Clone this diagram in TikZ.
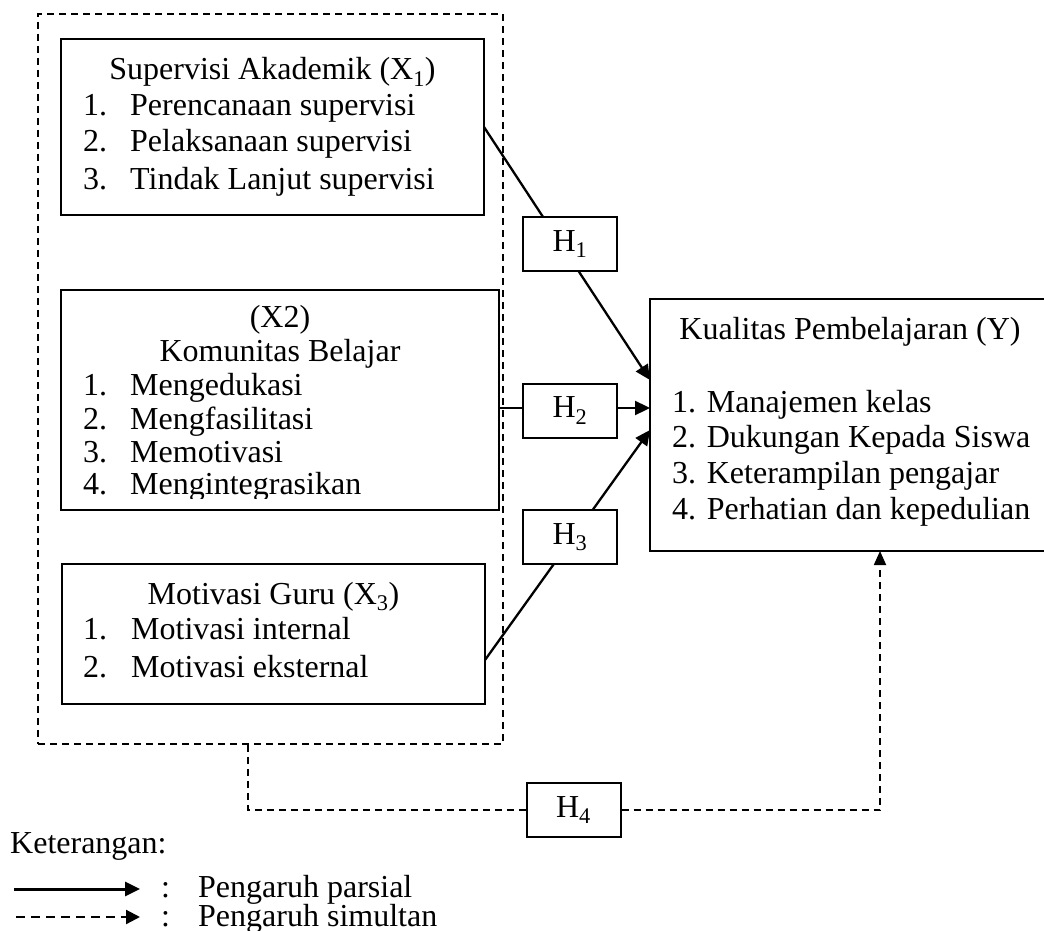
\documentclass[tikz,border=0pt]{standalone}
\usepackage{fontspec}
\setmainfont{Liberation Serif}
\usetikzlibrary{arrows.meta}
\tikzset{
  varbox/.style={draw,line width=2pt,inner sep=0pt,outer sep=0pt},
  hbox/.style={draw,line width=2pt,fill=white,minimum width=94pt,minimum height=54pt,inner sep=0pt},
  grpbox/.style={draw,line width=1.6pt,dash pattern=on 7pt off 5pt,inner sep=0pt},
  parsial/.style={line width=2.3pt,-{Triangle[length=15pt,width=14pt]}},
  simultan/.style={line width=1.8pt,dash pattern=on 7pt off 5pt},
  txt/.style={anchor=base west,inner sep=0pt},
  ttl/.style={anchor=base,inner sep=0pt}
}
\begin{document}
\begin{tikzpicture}[x=1pt,y=-1pt,font=\fontsize{32}{36}\selectfont]
\useasboundingbox (0,0) rectangle (1044,931);
% kotak variabel
\node[grpbox,minimum width=465,minimum height=730] (grp) at (270.5,379) {};
\node[varbox,minimum width=423,minimum height=176] (x1) at (272.5,127) {};
\node[varbox,minimum width=438,minimum height=220] (x2) at (280,400) {};
\node[varbox,minimum width=423,minimum height=140] (x3) at (273.5,634) {};
\node[varbox,minimum width=410,minimum height=252] (y) at (855,425) {};
% X1
\node[ttl] (x1t) at (x1.north |- 0,80) {Supervisi Akademik (X\textsubscript{1})};
\foreach \n/\t/\yy in {1/Perencanaan supervisi/116,2/Pelaksanaan supervisi/152,3/Tindak Lanjut supervisi/189}{
  \node[txt] (x1n\n) at (83,\yy) {\n.};
  \node[txt] (x1i\n) at (130,\yy) {\t};
}
% X2
\node[ttl] (x2a) at (x2.north |- 0,327) {(X2)};
\node[ttl] (x2t) at (x2.north |- 0,361) {Komunitas Belajar};
\foreach \n/\t/\yy in {1/Mengedukasi/395,2/Mengfasilitasi/429,3/Memotivasi/462}{
  \node[txt] (x2n\n) at (83,\yy) {\n.};
  \node[txt] (x2i\n) at (130,\yy) {\t};
}
\begin{scope}
  \clip (61,290) rectangle (499,498);
  \node[txt] (x2n4) at (83,494) {4.};
  \node[txt] (x2i4) at (130,494) {Mengintegrasikan};
\end{scope}
% X3
\node[ttl] (x3t) at (x3.north |- 0,604) {Motivasi Guru (X\textsubscript{3})};
\foreach \n/\t/\yy in {1/Motivasi internal/639,2/Motivasi eksternal/677}{
  \node[txt] (x3n\n) at (83,\yy) {\n.};
  \node[txt] (x3i\n) at (131,\yy) {\t};
}
% Y
\node[ttl] (yt) at (850,339) {Kualitas Pembelajaran (Y)};
\foreach \n/\t/\yy in {1/Manajemen kelas/412,2/Dukungan Kepada Siswa/447,3/Keterampilan pengajar/483,4/Perhatian dan kepedulian/519}{
  \node[txt] (yi\n) at (672,\yy) {\n. \t};
}
% pengaruh parsial
\draw[parsial] (x1.east) -- ([yshift=45pt]y.west);
\draw[parsial] ([yshift=-8pt]x2.east) -- ([yshift=17pt]y.west);
\draw[parsial] ([yshift=-26pt]x3.east) -- ([yshift=-5pt]y.west);
\node[hbox] (h1) at (570,244) {H\textsubscript{1}};
\node[hbox] (h2) at (570,410.5) {H\textsubscript{2}};
\node[hbox] (h3) at (570,537) {H\textsubscript{3}};
% pengaruh simultan
\node[hbox] (h4) at (573.5,810) {H\textsubscript{4}};
\coordinate (s0) at (248,810);
\coordinate (s1) at (880,810);
\draw[simultan] (grp.south -| s0) -- (s0) -- (h4.west);
\draw[simultan,-{Triangle[length=14pt,width=12pt]}] (h4.east) -- (s1) -- (y.south -| s1);
% keterangan
\node[txt] (ket) at (10,853) {Keterangan:};
\coordinate (l1a) at (14,889);
\coordinate (l1b) at (140,889);
\coordinate (l2a) at (16,917);
\coordinate (l2b) at (140,917);
\draw[parsial,line width=3pt] (l1a) -- (l1b);
\draw[simultan,line width=2.2pt,dash pattern=on 9pt off 6pt,-{Triangle[length=14pt,width=14pt]}] (l2a) -- (l2b);
\node[txt] (l1c) at (161,897) {:};
\node[txt] (l1t) at (198,897) {Pengaruh parsial};
\node[txt] (l2c) at (161,926) {:};
\node[txt] (l2t) at (198,926) {Pengaruh simultan};
\end{tikzpicture}
\end{document}
